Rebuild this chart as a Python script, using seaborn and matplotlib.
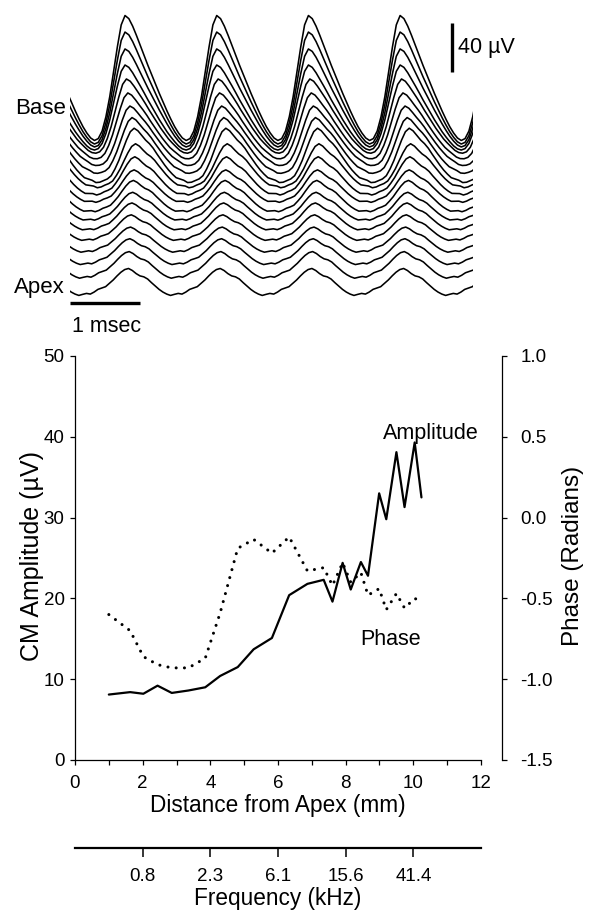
import numpy as np
import pandas as pd
import matplotlib
matplotlib.use("Agg")
import matplotlib.pyplot as plt
from matplotlib.ticker import MultipleLocator, FixedLocator
import seaborn as sns

# ---------------- data ----------------
# cochlear microphonic along the cochlea (bottom panel)
distance_mm = [1.0, 1.63, 2.02, 2.44, 2.86, 3.35, 3.85, 4.29, 4.81, 5.28, 5.82,
               6.33, 6.87, 7.35, 7.61, 7.91, 8.15, 8.45, 8.66, 8.99, 9.2, 9.5,
               9.74, 10.04, 10.24]
cm_amplitude_uv = [8.1, 8.4, 8.2, 9.2, 8.3, 8.6, 9.0, 10.4, 11.5, 13.7, 15.1,
                   20.4, 21.8, 22.3, 19.6, 24.4, 21.1, 24.5, 22.8, 33.0, 29.8,
                   38.1, 31.3, 39.3, 32.5]
phase_rad = [-0.60, -0.70, -0.86, -0.91, -0.93, -0.93, -0.87, -0.59, -0.19,
             -0.135, -0.22, -0.12, -0.33, -0.31, -0.42, -0.28, -0.40, -0.34,
             -0.48, -0.44, -0.57, -0.47, -0.56, -0.50, -0.52]

# frequency scale along the same distance axis
freq_tick_mm = [2, 4, 6, 8, 10]
freq_tick_khz = ["0.8", "2.3", "6.1", "15.6", "41.4"]

# recorded waveforms (top panel), base -> apex
# one stimulus cycle sampled 24 times, starting at the positive peak
base_cycle = [1.0, 0.95, 0.83, 0.68, 0.52, 0.36, 0.20, 0.05, -0.10, -0.25,
              -0.39, -0.53, -0.66, -0.78, -0.88, -0.96, -1.0, -0.97, -0.85,
              -0.62, -0.30, 0.10, 0.50, 0.85]
apex_cycle = [1.0, 0.85, 0.62, 0.45, 0.38, 0.22, -0.05, -0.30, -0.55, -0.75,
              -0.90, -1.0, -0.92, -0.85, -0.90, -0.75, -0.55, -0.45, -0.35,
              -0.10, 0.15, 0.45, 0.72, 0.92]
trace_offset_uv = [209.8, 201.6, 193.5, 185.3, 178.0, 169.8, 161.6, 153.5,
                   145.3, 137.1, 129.0, 120.8, 112.7, 104.5, 96.3, 87.3, 77.6,
                   67.8, 57.1, 43.3]
trace_amp_uv = [51.0, 45.7, 40.0, 35.1, 31.0, 27.8, 25.3, 24.0, 23.5, 19.0,
                16.5, 14.0, 13.5, 12.0, 11.5, 10.8, 10.5, 10.8, 11.0, 11.0]
trace_apex_mix = [0.0, 0.0, 0.0, 0.05, 0.1, 0.15, 0.2, 0.3, 0.4, 0.5, 0.6,
                  0.65, 0.7, 0.75, 0.8, 0.85, 0.9, 0.9, 0.95, 1.0]
trace_lag_ms = [0.0, 0.0, 0.0, 0.0, 0.02, 0.04, 0.07, 0.10, 0.13, 0.15, 0.14,
                0.13, 0.12, 0.11, 0.10, 0.09, 0.08, 0.07, 0.06, 0.05]
cycle_ms = 1.31
first_peak_ms = 0.786

# ---------------- style ----------------
sns.set_style("ticks")
plt.rcParams["font.family"] = ["Liberation Sans", "DejaVu Sans"]
plt.rcParams["axes.unicode_minus"] = False
for key in ("text.color", "axes.labelcolor", "xtick.color", "ytick.color",
            "axes.edgecolor"):
    plt.rcParams[key] = "black"

W, H = 591, 914
fig = plt.figure(figsize=(W / 100, H / 100), dpi=100)


def fx(px):
    return px / W


def fy(py):
    return 1 - py / H


# ---------------- top panel: waveforms ----------------
uv_px = 1.225
ax_w = fig.add_axes([fx(70), fy(335), fx(473) - fx(70), fy(5) - fy(335)])
ax_w.set_xlim(0, (473 - 70) / 70)
ax_w.set_ylim(0, 330 / uv_px)
ax_w.axis("off")

n_samp = len(base_cycle)
n_rep = 7
k = np.arange(n_samp * n_rep + 1)
rows = []
for i in range(len(trace_offset_uv)):
    m = trace_apex_mix[i]
    shape = [(1 - m) * b + m * a for b, a in zip(base_cycle, apex_cycle)]
    t0 = first_peak_ms + trace_lag_ms[i] - cycle_ms
    t = t0 + k * cycle_ms / n_samp
    v = [trace_offset_uv[i] + trace_amp_uv[i] * shape[j % n_samp] for j in k]
    rows.append(pd.DataFrame({"t": t, "v": v, "trace": i}))
waves = pd.concat(rows, ignore_index=True)
sns.lineplot(data=waves, x="t", y="v", units="trace", estimator=None,
             color="black", lw=1.15, sort=False, ax=ax_w, legend=False)

# scale bars
ax_w.plot([(452 - 70) / 70] * 2, [(335 - 72) / uv_px, (335 - 72) / uv_px + 40],
          color="black", lw=2.4, solid_capstyle="butt", clip_on=False)
ax_w.text((458 - 70) / 70, (335 - 47) / uv_px, "40 µV", fontsize=15.5,
          ha="left", va="center")
ax_w.plot([0, 1], [(335 - 303) / uv_px] * 2, color="black", lw=2.4,
          solid_capstyle="butt", clip_on=False)
ax_w.text(0.03, (335 - 326) / uv_px, "1 msec", fontsize=15.5, ha="left",
          va="center", clip_on=False)
ax_w.text(-0.06, (335 - 108) / uv_px, "Base", fontsize=16, ha="right",
          va="center")
ax_w.text(-0.08, (335 - 288) / uv_px, "Apex", fontsize=16, ha="right",
          va="center")

# ---------------- bottom panel: amplitude and phase ----------------
ax = fig.add_axes([fx(75), fy(760), fx(481) - fx(75), fy(356) - fy(760)])
df = pd.DataFrame({"distance": distance_mm, "amp": cm_amplitude_uv,
                   "phase": phase_rad})
sns.lineplot(data=df, x="distance", y="amp", color="black", lw=1.6,
             sort=False, ax=ax)
ax.set_xlim(0, 12)
ax.set_ylim(0, 50)
ax.xaxis.set_major_locator(MultipleLocator(2))
ax.xaxis.set_minor_locator(MultipleLocator(1))
ax.yaxis.set_major_locator(MultipleLocator(10))
for s in ("top", "right"):
    ax.spines[s].set_visible(False)
for s in ("left", "bottom"):
    ax.spines[s].set_linewidth(0.9)
ax.tick_params(axis="both", which="both", direction="out", length=3.5,
               width=0.9, labelsize=13.5, pad=4)
ax.tick_params(axis="x", which="major", pad=7)
ax.set_xlabel("Distance from Apex (mm)", fontsize=16.3, labelpad=2)
ax.set_ylabel("CM Amplitude (µV)", fontsize=18)
ax.yaxis.set_label_coords((44 - 75) / 406, 0.505)

ax2 = ax.twinx()
sns.lineplot(data=df, x="distance", y="phase", color="black", lw=2.2,
             linestyle=(0, (0.01, 2.7)), dash_capstyle="round", sort=False,
             ax=ax2)
ax2.set_ylim(-1.5, 1.0)
ax2.yaxis.set_major_locator(MultipleLocator(0.5))
ax2.yaxis.set_major_formatter(plt.FuncFormatter(lambda v, p: f"{v:.1f}"))
for s in ("top", "left", "bottom"):
    ax2.spines[s].set_visible(False)
ax2.spines["right"].set_position(("outward", 15))
ax2.spines["right"].set_linewidth(0.9)
ax2.tick_params(axis="y", direction="out", length=3.5, width=0.9,
                labelsize=13.5, pad=10)
ax2.set_ylabel("Phase (Radians)", fontsize=17.5)
ax2.yaxis.set_label_coords((562 - 75) / 406, 0.505)
ax2.set_xlim(0, 12)

ax.text(9.1, 40.4, "Amplitude", fontsize=15.5, ha="left", va="center")
ax.text(8.43, 14.9, "Phase", fontsize=15.5, ha="left", va="center")

# frequency axis below the distance axis
sec = ax.secondary_xaxis((760 - 848) / 404)
sec.xaxis.set_major_locator(FixedLocator(freq_tick_mm))
sec.set_xticklabels(freq_tick_khz)
sec.xaxis.set_minor_locator(FixedLocator([]))
sec.spines["bottom"].set_linewidth(1.6)
sec.tick_params(axis="x", direction="out", length=6.5, width=1.1,
                labelsize=13.5, pad=8)
sec.set_xlabel("Frequency (kHz)", fontsize=16.3, labelpad=1)

fig.savefig("out.png", dpi=100)
